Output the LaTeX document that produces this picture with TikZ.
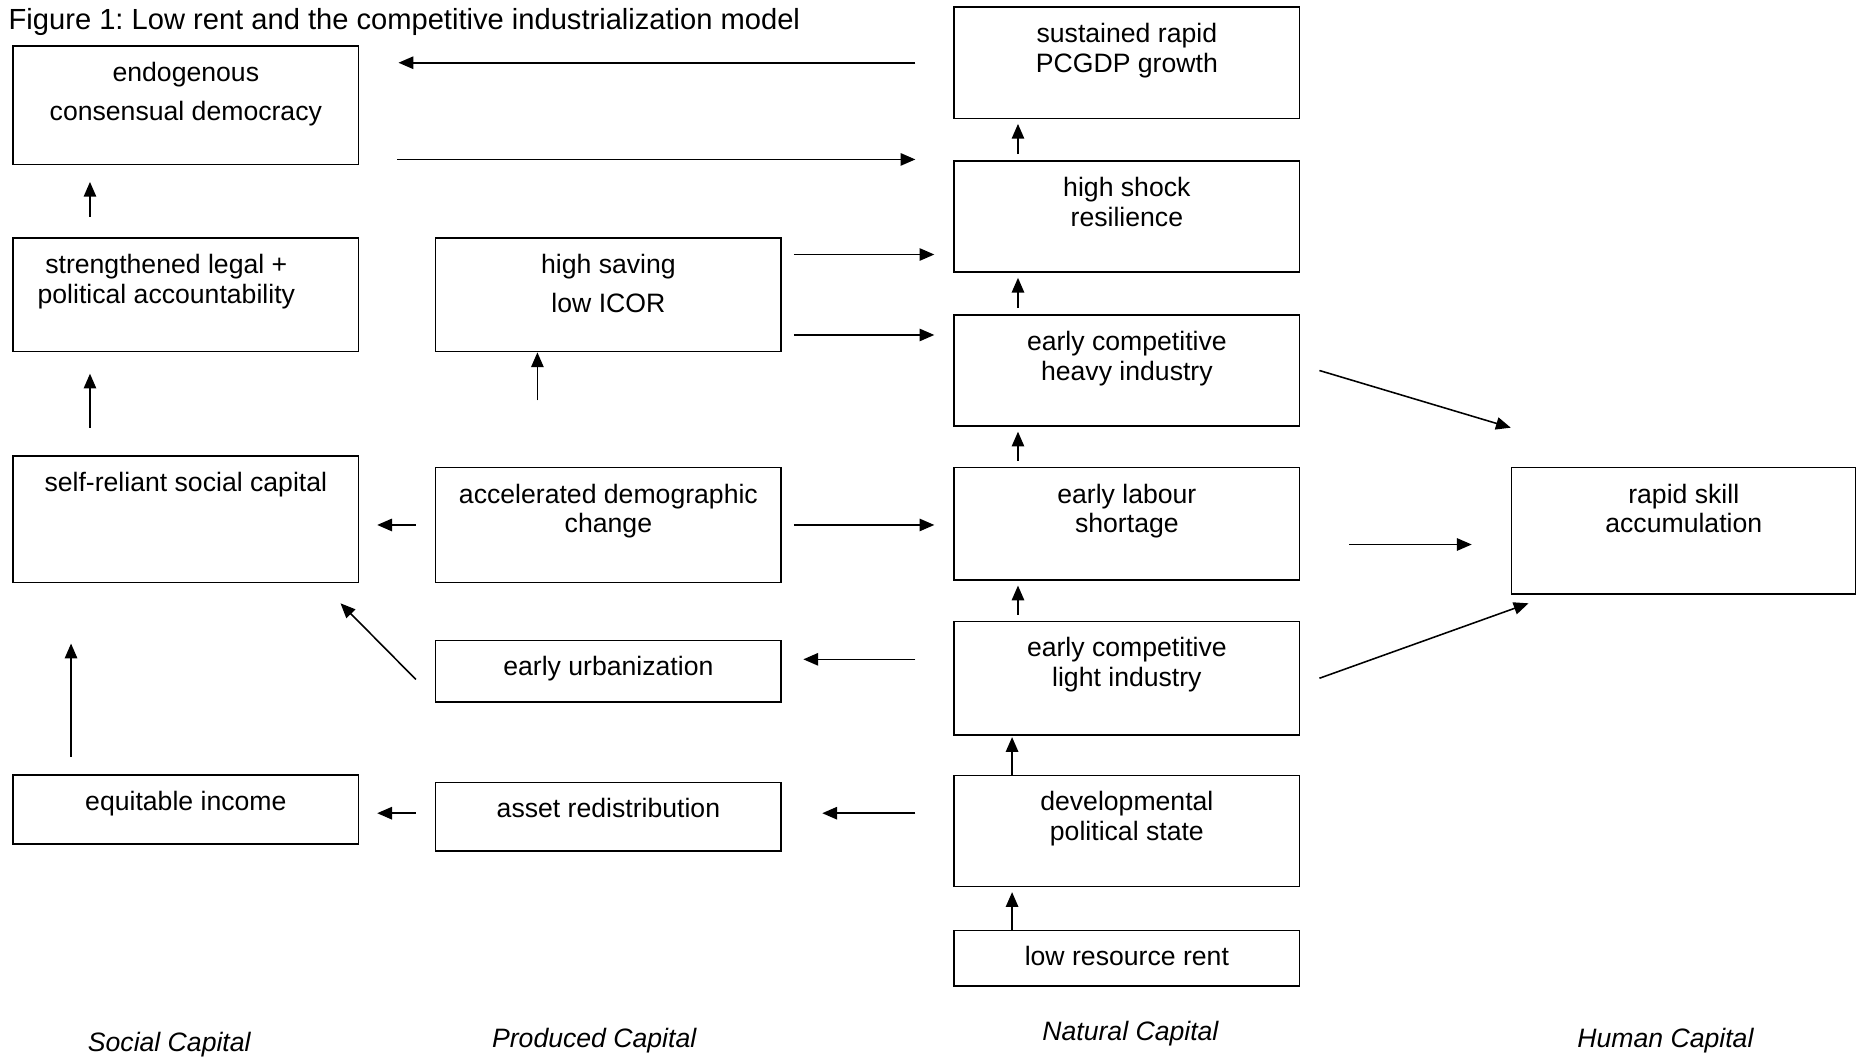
\documentclass[tikz,border=0pt]{standalone}
\usepackage{fontspec}
\setmainfont{Liberation Sans}
\usetikzlibrary{positioning,arrows.meta}
\frenchspacing

\begin{document}
\begin{tikzpicture}[x=0.02cm, y=-0.02cm,
    box/.style={draw, line width=0.8pt, minimum width=5.84cm, inner sep=0pt},
    txt/.style={align=center, inner sep=0pt, font=\fontsize{12.8}{14.4}\selectfont},
    capname/.style={inner sep=0pt, anchor=base, font=\fontsize{12.8}{14.4}\selectfont\itshape},
    arr/.style={line width=0.75pt, -{Triangle[length=0.25cm, width=0.21cm]}}]
    \useasboundingbox (0,0) rectangle (1568,893);
    \node[anchor=base west, inner sep=0pt, font=\fontsize{14}{17}\selectfont] (title) at (7,25) {Figure 1: Low rent and the competitive industrialization model};

    \node[box, minimum height=2cm] (endog) at (157,89) {};
    \node[txt, below=0.28cm of endog.north] {endogenous\\[4.4pt]consensual democracy};
    \node[box, minimum height=1.92cm] (legal) at (157,249) {};
    \node[txt, below=0.28cm of legal.north, xshift=-0.33cm] {strengthened legal +\\political accountability};
    \node[box, minimum height=2.14cm] (selfrel) at (157,438.5) {};
    \node[txt, below=0.28cm of selfrel.north] {self-reliant social capital};
    \node[box, minimum height=1.16cm] (equit) at (157,684) {};
    \node[txt, below=0.28cm of equit.north] {equitable income};

    \node[box, minimum height=1.92cm] (saving) at (514,249) {};
    \node[txt, below=0.28cm of saving.north] {high saving\\[4.4pt]low ICOR};
    \node[box, minimum height=1.94cm] (demog) at (514,443.5) {};
    \node[txt, below=0.28cm of demog.north] {accelerated demographic\\change};
    \node[box, minimum height=1.04cm] (urban) at (514,567) {};
    \node[txt, below=0.28cm of urban.north] {early urbanization};
    \node[box, minimum height=1.16cm] (asset) at (514,690) {};
    \node[txt, below=0.28cm of asset.north] {asset redistribution};

    \node[box, minimum height=1.88cm] (growth) at (952,53) {};
    \node[txt, below=0.28cm of growth.north] {sustained rapid\\PCGDP growth};
    \node[box, minimum height=1.88cm] (shock) at (952,183) {};
    \node[txt, below=0.28cm of shock.north] {high shock\\resilience};
    \node[box, minimum height=1.88cm] (heavy) at (952,313) {};
    \node[txt, below=0.28cm of heavy.north] {early competitive\\heavy industry};
    \node[box, minimum height=1.9cm] (labour) at (952,442.5) {};
    \node[txt, below=0.28cm of labour.north] {early labour\\shortage};
    \node[box, minimum height=1.92cm] (light) at (952,573) {};
    \node[txt, below=0.28cm of light.north] {early competitive\\light industry};
    \node[box, minimum height=1.88cm] (devstate) at (952,702) {};
    \node[txt, below=0.28cm of devstate.north] {developmental\\political state};
    \node[box, minimum height=0.94cm] (rent) at (952,809.5) {};
    \node[txt, below=0.28cm of rent.north] {low resource rent};

    \node[box, minimum width=5.82cm, minimum height=2.14cm] (skill) at (1422.5,448.5) {};
    \node[txt, below=0.28cm of skill.north] {rapid skill\\accumulation};

    \node[capname] (social) at (143,888) {Social Capital};
    \node[capname] (produced) at (502,885) {Produced Capital};
    \node[capname] (natural) at (955,879) {Natural Capital};
    \node[capname] (human) at (1407,885) {Human Capital};

    \draw[arr, shorten <=0.64cm, shorten >=0.66cm] (growth.west) -- (growth.west -| endog.east);
    \draw[arr, shorten <=0.64cm, shorten >=0.64cm] ([yshift=0.1cm]endog.south east) -- ([yshift=0.1cm]endog.south east -| shock.west);
    \draw[arr, shorten <=0.34cm, shorten >=0.28cm] ([xshift=-1.62cm]legal.north) -- ([xshift=-1.62cm]endog.south);
    \draw[arr, shorten <=0.46cm, shorten >=0.36cm] ([xshift=-1.62cm]selfrel.north) -- ([xshift=-1.62cm]legal.south);
    \draw[arr, shorten <=0.3cm, shorten >=1.02cm] ([xshift=-1.94cm]equit.north) -- ([xshift=-1.94cm]selfrel.south);

    \draw[arr, shorten <=0.2cm, shorten >=0.32cm] ([yshift=0.68cm]saving.east) -- ([yshift=0.68cm]saving.east -| shock.west);
    \draw[arr, shorten <=0.2cm, shorten >=0.32cm] ([yshift=-0.68cm]saving.east) -- ([yshift=-0.68cm]saving.east -| heavy.west);
    \draw[arr, shorten <=1.12cm] ([xshift=-1.2cm]demog.north) -- ([xshift=-1.2cm]saving.south);
    \draw[arr, shorten <=0.32cm, shorten >=0.3cm] (demog.west) -- (demog.west -| selfrel.east);
    \draw[arr, shorten <=0.2cm, shorten >=0.32cm] (demog.east) -- (demog.east -| labour.west);
    \draw[arr] ([shift={(-0.32cm,-0.14cm)}]urban.west) -- ([shift={(-0.32cm,-0.34cm)}]selfrel.south east);
    \draw[arr, shorten <=0.64cm, shorten >=0.36cm] ([yshift=0.32cm]light.west) -- ([yshift=0.32cm]light.west -| urban.east);
    \draw[arr, shorten <=0.64cm, shorten >=0.68cm] ([yshift=0.3cm]devstate.west) -- ([yshift=0.3cm]devstate.west -| asset.east);
    \draw[arr, shorten <=0.32cm, shorten >=0.3cm] ([yshift=0.06cm]asset.west) -- ([yshift=0.06cm]asset.west -| equit.east);

    \draw[arr, shorten <=0.1cm, shorten >=0.08cm] ([xshift=-1.84cm]shock.north) -- ([xshift=-1.84cm]growth.south);
    \draw[arr, shorten <=0.1cm, shorten >=0.08cm] ([xshift=-1.84cm]heavy.north) -- ([xshift=-1.84cm]shock.south);
    \draw[arr, shorten <=0.1cm, shorten >=0.08cm] ([xshift=-1.84cm]labour.north) -- ([xshift=-1.84cm]heavy.south);
    \draw[arr, shorten <=0.1cm, shorten >=0.08cm] ([xshift=-1.84cm]light.north) -- ([xshift=-1.84cm]labour.south);
    \draw[arr, shorten >=0.02cm] ([xshift=-1.94cm]devstate.north) -- ([xshift=-1.94cm]light.south);
    \draw[arr, shorten >=0.08cm] ([xshift=-1.94cm]rent.north) -- ([xshift=-1.94cm]devstate.south);

    \draw[arr] ([xshift=0.32cm]heavy.east) -- ([yshift=0.66cm]skill.north west);
    \draw[arr, shorten <=0.82cm, shorten >=0.66cm] ([yshift=-0.35cm]labour.east) -- ([yshift=-0.35cm]labour.east -| skill.west);
    \draw[arr] ([xshift=0.32cm]light.east) -- ([shift={(0.3cm,-0.14cm)}]skill.south west);
\end{tikzpicture}
\end{document}
